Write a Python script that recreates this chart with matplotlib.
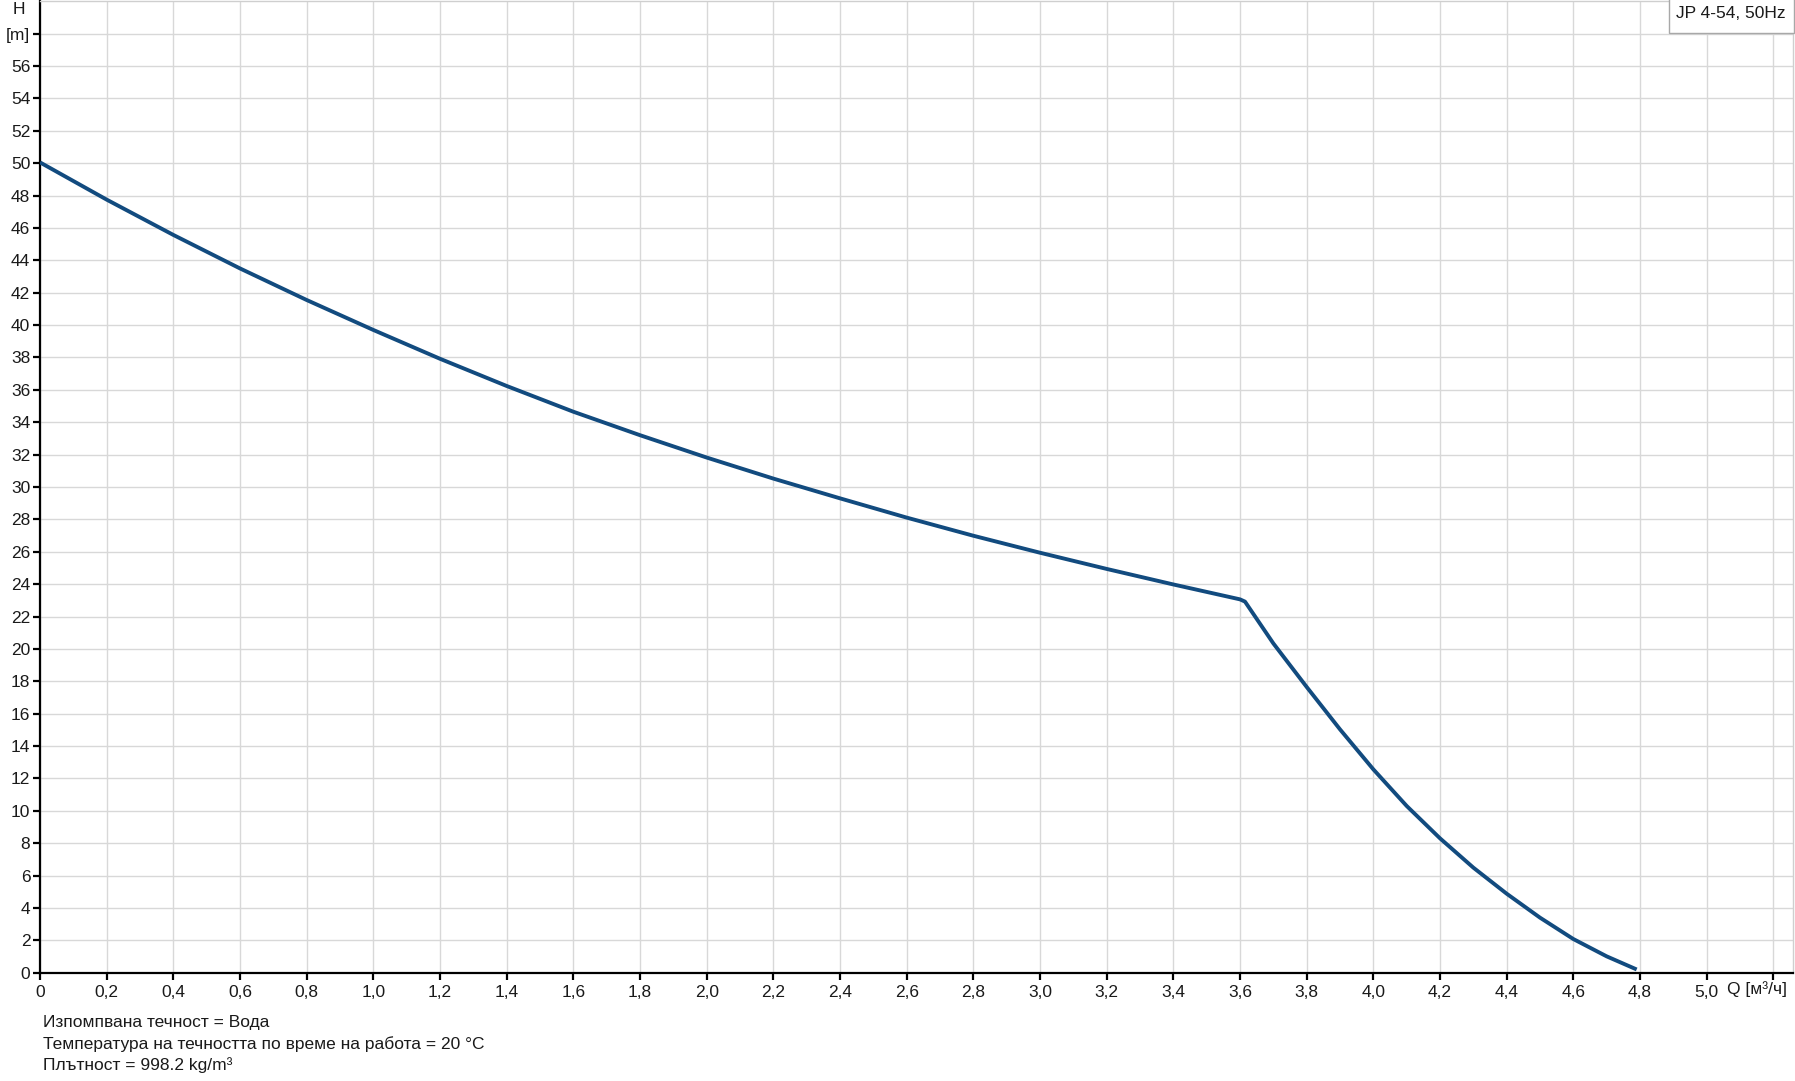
import matplotlib
matplotlib.use("Agg")
import matplotlib.pyplot as plt
from matplotlib.ticker import FixedLocator
from matplotlib.patches import Rectangle

plt.rcParams['font.family'] = ['Liberation Sans', 'DejaVu Sans']

# Data
q_vals = [0.0, 0.2, 0.4, 0.6, 0.8, 1.0, 1.2, 1.4, 1.6, 1.8, 2.0, 2.2, 2.4, 2.6, 2.8,
          3.0, 3.2, 3.4, 3.6, 3.615, 3.7, 3.8, 3.9, 4.0, 4.1, 4.2, 4.3, 4.4, 4.5,
          4.6, 4.7, 4.79]
h_vals = [50.05, 47.75, 45.57, 43.50, 41.55, 39.70, 37.92, 36.24, 34.65, 33.20,
          31.82, 30.52, 29.30, 28.11, 26.99, 25.94, 24.94, 23.98, 23.06, 22.92,
          20.34, 17.65, 15.03, 12.56, 10.30, 8.30, 6.49, 4.88, 3.40, 2.08, 1.01,
          0.20]

x_ticks = [0.0, 0.2, 0.4, 0.6, 0.8, 1.0, 1.2, 1.4, 1.6, 1.8, 2.0, 2.2, 2.4, 2.6,
           2.8, 3.0, 3.2, 3.4, 3.6, 3.8, 4.0, 4.2, 4.4, 4.6, 4.8, 5.0, 5.2]
x_labels = ["0", "0,2", "0,4", "0,6", "0,8", "1,0", "1,2", "1,4", "1,6", "1,8",
            "2,0", "2,2", "2,4", "2,6", "2,8", "3,0", "3,2", "3,4", "3,6", "3,8",
            "4,0", "4,2", "4,4", "4,6", "4,8", "5,0", ""]
y_ticks = list(range(0, 60, 2))
y_labels = [str(v) for v in range(0, 58, 2)] + ["[m]"]

x_unit = "Q [м³/ч]"
y_unit = "H"
legend_text = "JP 4-54, 50Hz"
notes = ["Изпомпвана течност = Вода",
         "Температура на течността по време на работа = 20 °C",
         "Плътност = 998.2 kg/m³"]

FS = 12.5
TXT = "#1a1a1a"

W, Hpx = 1795, 1081
fig = plt.figure(figsize=(W / 100, Hpx / 100), dpi=100)
ax = fig.add_axes([40 / W, 108.3 / Hpx, (1793 - 40) / W, (972.7 - 1.3) / Hpx])

ax.set_xlim(0, 5.259)
ax.set_ylim(0, 60)

ax.xaxis.set_major_locator(FixedLocator(x_ticks))
ax.yaxis.set_major_locator(FixedLocator(y_ticks))
ax.set_xticklabels(x_labels)
ax.set_yticklabels(y_labels)

ax.grid(True, color="#d8d8d8", linewidth=1.0)
ax.set_axisbelow(True)

for side in ("top", "right"):
    ax.spines[side].set_color("#cfcfcf")
    ax.spines[side].set_linewidth(1.0)
for side in ("left", "bottom"):
    ax.spines[side].set_color("black")
    ax.spines[side].set_linewidth(1.6)

ax.tick_params(axis="both", direction="out", length=5, width=1.6, color="black",
               labelsize=FS, labelcolor=TXT)
ax.tick_params(axis="x", pad=4)
ax.tick_params(axis="y", pad=2)

ax.plot(q_vals, h_vals, color="#124b7f", linewidth=2.8, solid_joinstyle="round",
        solid_capstyle="butt", zorder=3)

# axis units
fig.text(1757 / W, (Hpx - 989) / Hpx, x_unit, ha="center", va="center",
         fontsize=FS, color=TXT)
fig.text(19 / W, (Hpx - 9) / Hpx, y_unit, ha="center", va="center",
         fontsize=FS, color=TXT)

# legend box
fig.patches.append(Rectangle((1669 / W, (Hpx - 33) / Hpx), (1794 - 1669) / W,
                             36 / Hpx, transform=fig.transFigure,
                             facecolor="white", edgecolor="#a8a8a8",
                             linewidth=1.0, zorder=5))
fig.text(1676 / W, (Hpx - 14) / Hpx, legend_text, ha="left", va="center",
         fontsize=FS, color=TXT, zorder=6)

# notes
for i, line in enumerate(notes):
    fig.text(43 / W, (Hpx - (1022.5 + i * 21.2)) / Hpx, line, ha="left",
             va="center", fontsize=FS, color=TXT)

fig.savefig("out.png", dpi=100)
